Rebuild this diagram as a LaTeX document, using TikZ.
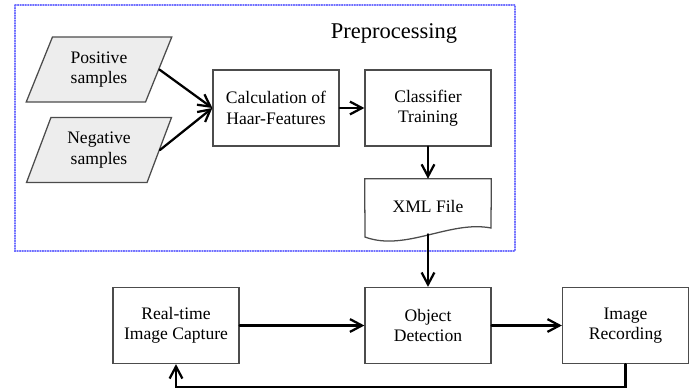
\documentclass[tikz,border=0pt]{standalone}
\usepackage{fontspec}
\setmainfont{Liberation Serif}
\usetikzlibrary{arrows.meta,shapes.geometric}
\definecolor{frameblue}{RGB}{110,110,255}

\begin{document}
\begin{tikzpicture}[x=0.025cm,y=-0.025cm,>={Straight Barb[length=3mm,width=3.2mm]},
  font=\fontsize{12.5}{14.5}\selectfont,line cap=round,
  box/.style={draw=black!70,line width=0.9pt,fill=white,minimum width=3.15cm,minimum height=1.9cm,align=center,inner sep=2pt},
  sample/.style={trapezium,trapezium stretches=true,trapezium left angle=67,trapezium right angle=113,draw=black!70,line width=0.9pt,fill=black!7,minimum width=3.65cm,minimum height=1.625cm,align=center,inner sep=2pt},
  arr/.style={->,line width=1.6pt}]
\useasboundingbox (0,0) rectangle (696,389);
\draw[frameblue,densely dotted,line width=0.8pt] (15,5) rectangle (515,251);
\node (pre) at (394,33) {\fontsize{16}{19}\selectfont Preprocessing};
\node[sample] (pos) at (99,69.5) {Positive\\samples};
\node[sample] (neg) at (99,150) {Negative\\samples};
\node[box] (calc) at (276,108) {Calculation of\\Haar-Features};
\node[box] (train) at (428,108) {Classifier\\Training};
\node[minimum width=3.15cm,minimum height=1.375cm,inner sep=2pt] (xml) at (428,206.5) {XML File};
\draw[draw=black!70,line width=0.9pt] (xml.north west) -- (xml.north east) -- (491,228)
  .. controls (450,220) and (405,252) .. (365,237) -- cycle;
\node[box] (rtc) at (176,325.5) {Real-time\\Image Capture};
\node[box] (od) at (428,325.5) {Object\\Detection};
\node[box] (ir) at (625.5,325.5) {Image\\Recording};
\draw[arr] (pos.east) -- (calc.west);
\draw[arr] (neg.east) -- (calc.west);
\draw[arr] (calc) -- (train);
\draw[arr] (train) -- (xml);
\draw[arr] (xml.south) -- (od);
\draw[arr] (rtc) -- (od);
\draw[arr] (od) -- (ir);
\draw[arr] (ir.south) -- ++(0,23) -| (rtc.south);
\end{tikzpicture}
\end{document}
